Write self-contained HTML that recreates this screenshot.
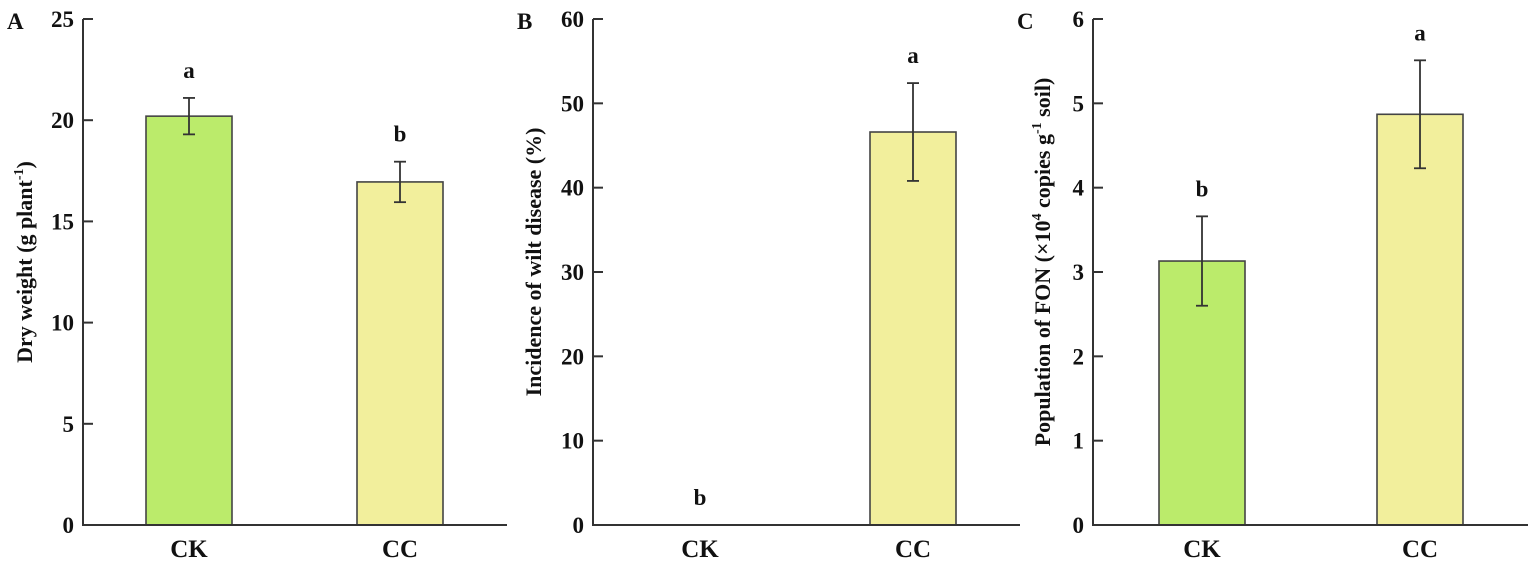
<!DOCTYPE html>
<html><head><meta charset="utf-8"><style>
html,body{margin:0;padding:0;background:#fff}
svg{display:block}
text{font-family:"Liberation Serif",serif;font-weight:bold;fill:#111}
</style></head><body>
<svg id="chart" width="1535" height="561" viewBox="0 0 1535 561" xmlns="http://www.w3.org/2000/svg"></svg>
<script>
const categories = ["CK", "CC"];
const dryWeight = [20.2, 16.95];
const dryWeightErr = [0.9, 1.0];
const dryWeightLetters = ["a", "b"];
const dryTicks = [0, 5, 10, 15, 20, 25];
const wilt = [0, 46.6];
const wiltErr = [0, 5.8];
const wiltLetters = ["b", "a"];
const wiltTicks = [0, 10, 20, 30, 40, 50, 60];
const fon = [3.13, 4.87];
const fonErr = [0.53, 0.64];
const fonLetters = ["b", "a"];
const fonTicks = [0, 1, 2, 3, 4, 5, 6];

const NS = "http://www.w3.org/2000/svg";
const svg = document.getElementById("chart");
const colors = ["#bbeb6b", "#f2ef9c"];
function mk(tag, attrs, parent) {
  const e = document.createElementNS(NS, tag);
  for (const k in attrs) e.setAttribute(k, attrs[k]);
  (parent || svg).appendChild(e);
  return e;
}
const panels = [
  {id:"a", label:"A", ax:83, xEnd:507, centers:[189,400], max:25, ticks:dryTicks, vals:dryWeight, err:dryWeightErr, letters:dryWeightLetters, title:"Dry weight (g plant", sup:"-1", tail:")", titleX:32},
  {id:"b", label:"B", ax:593, xEnd:1020, centers:[700,913], max:60, ticks:wiltTicks, vals:wilt, err:wiltErr, letters:wiltLetters, title:"Incidence of wilt disease (%)", sup:"", tail:"", titleX:541},
  {id:"c", label:"C", ax:1093, xEnd:1528, centers:[1202,1420], max:6, ticks:fonTicks, vals:fon, err:fonErr, letters:fonLetters, title:"Population of FON (×10", sup:"4", tail:" copies g", sup2:"-1", tail2:" soil)", titleX:1050}
];
const yTop = 19, yBot = 525, barW = 86;
panels.forEach(p => {
  const g = mk("g", {});
  
  
  const y = v => yBot - (v / p.max) * (yBot - yTop);
  const pl = mk("text", {x: p.ax - 76, y: 29, "font-size": 23}, g);
  pl.textContent = p.label;
  
  
  p.vals.forEach((v, i) => {
    const cx = p.centers[i];
    if (v > 0) {
      const r = mk("rect", {x: cx - barW/2, y: y(v), width: barW, height: yBot - y(v), fill: colors[i], stroke: "#444", "stroke-width": 1.6}, g);
      
      
    }
    if (p.err[i] > 0) {
      const eg = mk("g", {stroke: "#333", "stroke-width": 1.8}, g);
      
      
      const hi = y(v + p.err[i]), lo = y(v - p.err[i]);
      mk("line", {x1: cx, x2: cx, y1: hi, y2: lo}, eg);
      mk("line", {x1: cx - 6, x2: cx + 6, y1: hi, y2: hi}, eg);
      mk("line", {x1: cx - 6, x2: cx + 6, y1: lo, y2: lo}, eg);
    }
    const topV = v + p.err[i];
    const lt = mk("text", {x: cx, y: y(topV) - 20, "font-size": 23, "text-anchor": "middle"}, g);
    lt.textContent = p.letters[i];
    
    
    const cl = mk("text", {x: cx, y: 557, "font-size": 25, "text-anchor": "middle"}, g);
    cl.textContent = categories[i];
    
    
  });
  const ya = mk("line", {x1: p.ax, x2: p.ax, y1: yTop, y2: yBot + 1, stroke: "#333", "stroke-width": 2}, g);
  
  
  const xa = mk("line", {x1: p.ax - 1, x2: p.xEnd, y1: yBot, y2: yBot, stroke: "#333", "stroke-width": 2}, g);
  
  
  p.ticks.forEach(t => {
    const ty = y(t);
    mk("line", {x1: p.ax, x2: p.ax + 10, y1: ty, y2: ty, stroke: "#333", "stroke-width": 2}, g);
    const tl = mk("text", {x: p.ax - 9, y: ty + 8, "font-size": 23, "text-anchor": "end"}, g);
    tl.textContent = t;
    
    
  });
  const tt = mk("text", {transform: `translate(${p.titleX},262) rotate(-90)`, "font-size": 22, "text-anchor": "middle"}, g);
  
  
  const s1 = mk("tspan", {}, tt); s1.textContent = p.title;
  if (p.sup) { const s = mk("tspan", {dy: -9, "font-size": 14}, tt); s.textContent = p.sup;
    const s2 = mk("tspan", {dy: 9}, tt); s2.textContent = p.tail; }
  if (p.sup2) { const s = mk("tspan", {dy: -9, "font-size": 14}, tt); s.textContent = p.sup2;
    const s3 = mk("tspan", {dy: 9}, tt); s3.textContent = p.tail2; }
});
</script>
</body></html>
